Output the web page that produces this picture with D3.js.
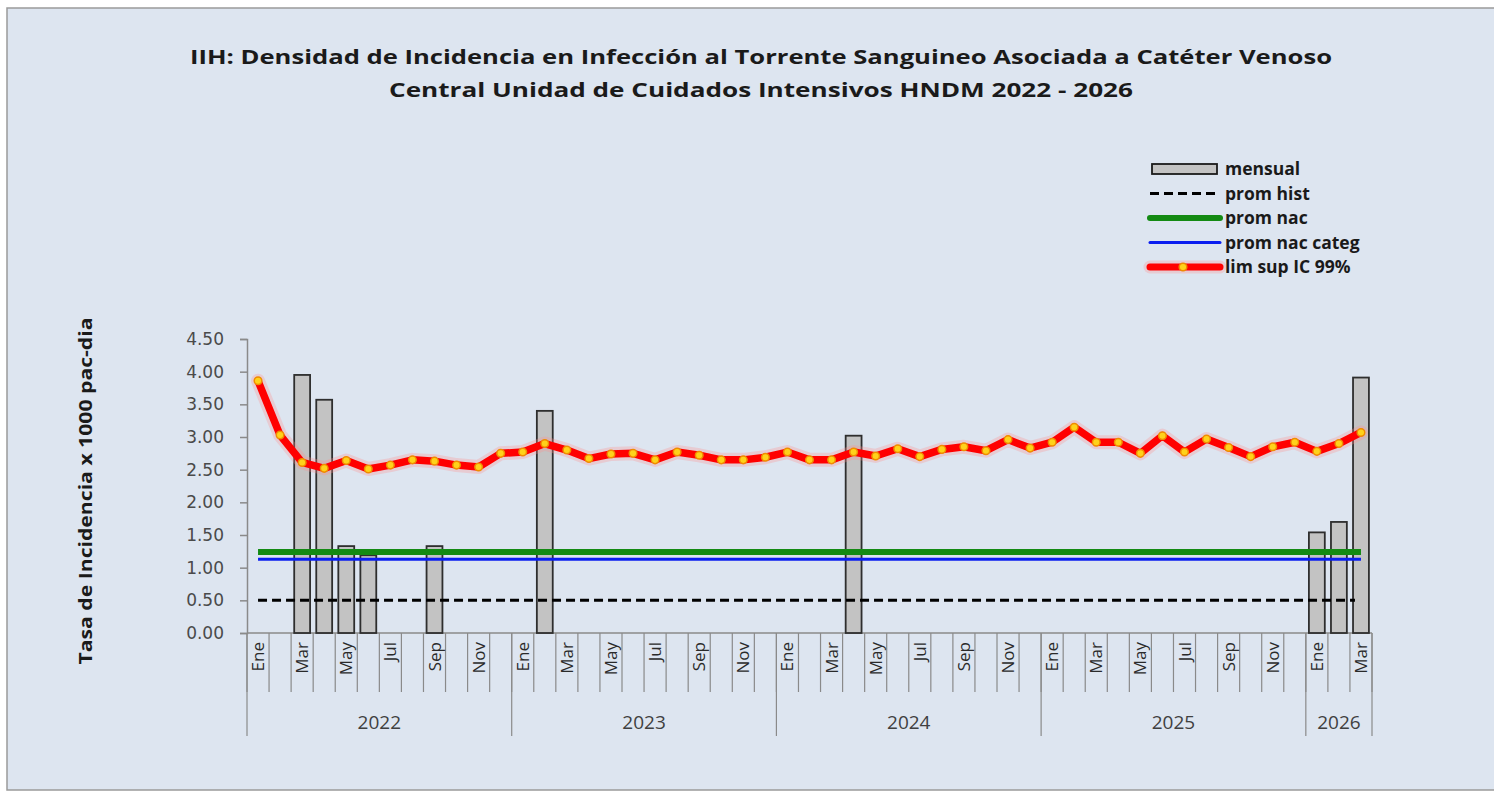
<!DOCTYPE html>
<html><head><meta charset="utf-8">
<script src="https://cdn.jsdelivr.net/npm/d3@7"></script>
<style>body{margin:0;background:#fff}</style>
</head><body><svg id="c" width="1494" height="796"></svg>
<script>
const titleLines = ["IIH: Densidad de Incidencia  en Infección al Torrente Sanguineo Asociada a Catéter Venoso",
                    "Central Unidad de Cuidados  Intensivos HNDM 2022 - 2026"];
const yTitle = "Tasa de Incidencia x 1000 pac-dia";
const years = ["2022","2023","2024","2025","2026"];
const monthsPerYear = [12,12,12,12,3];
const monthNames = ["Ene","Feb","Mar","Abr","May","Jun","Jul","Ago","Sep","Oct","Nov","Dic"];
const tickLabels = ["Ene","Mar","May","Jul","Sep","Nov"];
const yTicks = [0,0.5,1,1.5,2,2.5,3,3.5,4,4.5];
const mensual = [
  0,0,3.95,3.57,1.33,1.19,0,0,1.33,0,0,0,
  0,3.40,0,0,0,0,0,0,0,0,0,0,
  0,0,0,3.02,0,0,0,0,0,0,0,0,
  0,0,0,0,0,0,0,0,0,0,0,0,
  1.54,1.70,3.91];
const limSup = [
  3.86,3.03,2.61,2.52,2.64,2.51,2.57,2.65,2.63,2.57,2.54,2.75,
  2.77,2.90,2.80,2.67,2.74,2.75,2.65,2.77,2.72,2.65,2.65,2.69,
  2.77,2.65,2.65,2.77,2.71,2.82,2.70,2.81,2.85,2.79,2.96,2.83,
  2.92,3.15,2.92,2.92,2.75,3.02,2.77,2.97,2.84,2.70,2.85,2.92,
  2.78,2.90,3.07];
const promHist = 0.50, promNac = 1.24, promNacCateg = 1.13;
const legendLabels = ["mensual","prom hist","prom nac","prom nac categ","lim sup IC 99%"];

// build categories
const cats = [];
years.forEach((y,i)=>{ for(let m=0;m<monthsPerYear[i];m++) cats.push({year:y, month:monthNames[m], key:y+"-"+m}); });
cats.forEach((c,i)=>{ c.mensual = mensual[i]; c.lim = limSup[i]; });

const svg = d3.select("#c");
const bg = "#dde5f0";
svg.append("rect").attr("x",7).attr("y",8).attr("width",1490).attr("height",782)
  .attr("fill",bg).attr("stroke","#9a9a9a").attr("stroke-width",1.5);

const x = d3.scaleBand().domain(cats.map(c=>c.key)).range([247,1372]).padding(0);
const y = d3.scaleLinear().domain([0,4.5]).range([633,339]);
const bw = x.bandwidth();
const cx = k => x(k)+bw/2;

// title
svg.selectAll(".title").data(titleLines).join("text")
  .attr("x",761).attr("y",(d,i)=>64+i*33).attr("text-anchor","middle")
  .attr("font-family","Open Sans").attr("font-weight","bold").attr("font-size",20)
  .attr("fill","#1a1a1a")
  .attr("textLength",(d,i)=> i===0?1142:744).attr("lengthAdjust","spacingAndGlyphs")
  .text(d=>d);

// y axis
const yAxis = d3.axisLeft(y).tickValues(yTicks).tickFormat(d3.format(".2f")).tickSize(7).tickPadding(16);
const gy = svg.append("g").attr("transform","translate(247,0)").call(yAxis);
gy.select(".domain").attr("stroke","#8a8a8a").attr("stroke-width",1.5);
gy.selectAll(".tick line").attr("stroke","#8a8a8a").attr("stroke-width",1.5);
gy.selectAll(".tick text").attr("font-family","DejaVu Sans").attr("font-size",17).attr("fill","#4a4a4a");

svg.append("text").attr("transform","translate(92,491) rotate(-90)").attr("text-anchor","middle")
  .attr("font-family","Open Sans").attr("font-weight","bold").attr("font-size",17).attr("fill","#1a1a1a")
  .attr("textLength",347).attr("lengthAdjust","spacingAndGlyphs").text(yTitle);

// x axis (multi-level)
const gx = svg.append("g");
gx.append("line").attr("x1",247).attr("x2",1372).attr("y1",633).attr("y2",633).attr("stroke","#8a8a8a").attr("stroke-width",1.5);
const boundaries = cats.map(c=>x(c.key)).concat([1372]);
gx.selectAll(".msep").data(boundaries).join("line")
  .attr("x1",d=>d).attr("x2",d=>d).attr("y1",633).attr("y2",692)
  .attr("stroke","#8a8a8a").attr("stroke-width",1.2);
gx.selectAll(".mlab").data(cats.filter(c=>tickLabels.includes(c.month))).join("text")
  .attr("transform",c=>`translate(${cx(c.key)+6},642) rotate(-90)`)
  .attr("text-anchor","end").attr("font-family","Open Sans").attr("font-size",17).attr("fill","#2a2a2a")
  .text(c=>c.month);
// year separators & labels
let start = 0;
const yearSpans = years.map((yr,i)=>{ const s = start; start += monthsPerYear[i]; return {yr, s, e:start}; });
const yearEdges = yearSpans.map(s=>x(cats[s.s].key)).concat([1372]);
gx.selectAll(".ysep").data(yearEdges).join("line")
  .attr("x1",d=>d).attr("x2",d=>d).attr("y1",633).attr("y2",736)
  .attr("stroke","#8a8a8a").attr("stroke-width",1.2);
gx.selectAll(".ylab").data(yearSpans).join("text")
  .attr("x",s=>(x(cats[s.s].key)+ (s.e<cats.length? x(cats[s.e].key):1372))/2)
  .attr("y",729).attr("text-anchor","middle").attr("font-family","Open Sans").attr("font-size",19).attr("fill","#404040")
  .text(s=>s.yr);

// bars
svg.selectAll(".bar").data(cats.filter(c=>c.mensual>0)).join("rect")
  .attr("x",c=>x(c.key)+bw*0.14).attr("width",bw*0.72)
  .attr("y",c=>y(c.mensual)).attr("height",c=>y(0)-y(c.mensual))
  .attr("fill","#c3c3c3").attr("stroke","#2e2e2e").attr("stroke-width",1.8);

// reference lines
const x0 = cx(cats[0].key), x1 = cx(cats[cats.length-1].key);
svg.append("line").attr("x1",x0).attr("x2",x1-6).attr("y1",y(promHist)).attr("y2",y(promHist))
  .attr("stroke","#000").attr("stroke-width",3).attr("stroke-dasharray","9,5");
svg.append("line").attr("x1",x0).attr("x2",x1).attr("y1",y(promNac)).attr("y2",y(promNac))
  .attr("stroke","#138a13").attr("stroke-width",6);
svg.append("line").attr("x1",x0).attr("x2",x1).attr("y1",y(promNacCateg)).attr("y2",y(promNacCateg))
  .attr("stroke","#0a1ef0").attr("stroke-width",3);

// lim sup line
const line = d3.line().x(c=>cx(c.key)).y(c=>y(c.lim));
svg.append("path").datum(cats).attr("d",line).attr("fill","none")
  .attr("stroke","#ff9090").attr("stroke-opacity",0.3).attr("stroke-width",14).attr("stroke-linejoin","round").attr("stroke-linecap","round");
svg.append("path").datum(cats).attr("d",line).attr("fill","none")
  .attr("stroke","#ff0000").attr("stroke-width",7.5).attr("stroke-linejoin","round").attr("stroke-linecap","round");
svg.selectAll(".pt").data(cats).join("circle")
  .attr("cx",c=>cx(c.key)).attr("cy",c=>y(c.lim)).attr("r",3.8)
  .attr("fill","#ffd21a").attr("stroke","#f08c00").attr("stroke-width",1.5);

// legend
const lg = svg.append("g");
const ly = i => 169 + i*24.5;
lg.append("rect").attr("x",1152).attr("y",ly(0)-5).attr("width",65).attr("height",10)
  .attr("fill","#c3c3c3").attr("stroke","#1a1a1a").attr("stroke-width",1.8);
lg.append("line").attr("x1",1150).attr("x2",1220).attr("y1",ly(1)).attr("y2",ly(1))
  .attr("stroke","#000").attr("stroke-width",3).attr("stroke-dasharray","9,5");
lg.append("line").attr("x1",1150).attr("x2",1220).attr("y1",ly(2)).attr("y2",ly(2))
  .attr("stroke","#138a13").attr("stroke-width",6).attr("stroke-linecap","round");
lg.append("line").attr("x1",1150).attr("x2",1220).attr("y1",ly(3)).attr("y2",ly(3))
  .attr("stroke","#0a1ef0").attr("stroke-width",3).attr("stroke-linecap","round");
lg.append("line").attr("x1",1150).attr("x2",1220).attr("y1",ly(4)).attr("y2",ly(4))
  .attr("stroke","#ff9090").attr("stroke-opacity",0.3).attr("stroke-width",13).attr("stroke-linecap","round");
lg.append("line").attr("x1",1150).attr("x2",1220).attr("y1",ly(4)).attr("y2",ly(4))
  .attr("stroke","#ff0000").attr("stroke-width",7).attr("stroke-linecap","round");
lg.append("circle").attr("cx",1183).attr("cy",ly(4)).attr("r",3.8).attr("fill","#ffd21a").attr("stroke","#f08c00").attr("stroke-width",1.5);
lg.selectAll(".lt").data(legendLabels).join("text")
  .attr("x",1225).attr("y",(d,i)=>ly(i)+6)
  .attr("font-family","Open Sans").attr("font-weight","bold").attr("font-size",17.5).attr("fill","#1a1a1a")
  .text(d=>d);
</script></body></html>
